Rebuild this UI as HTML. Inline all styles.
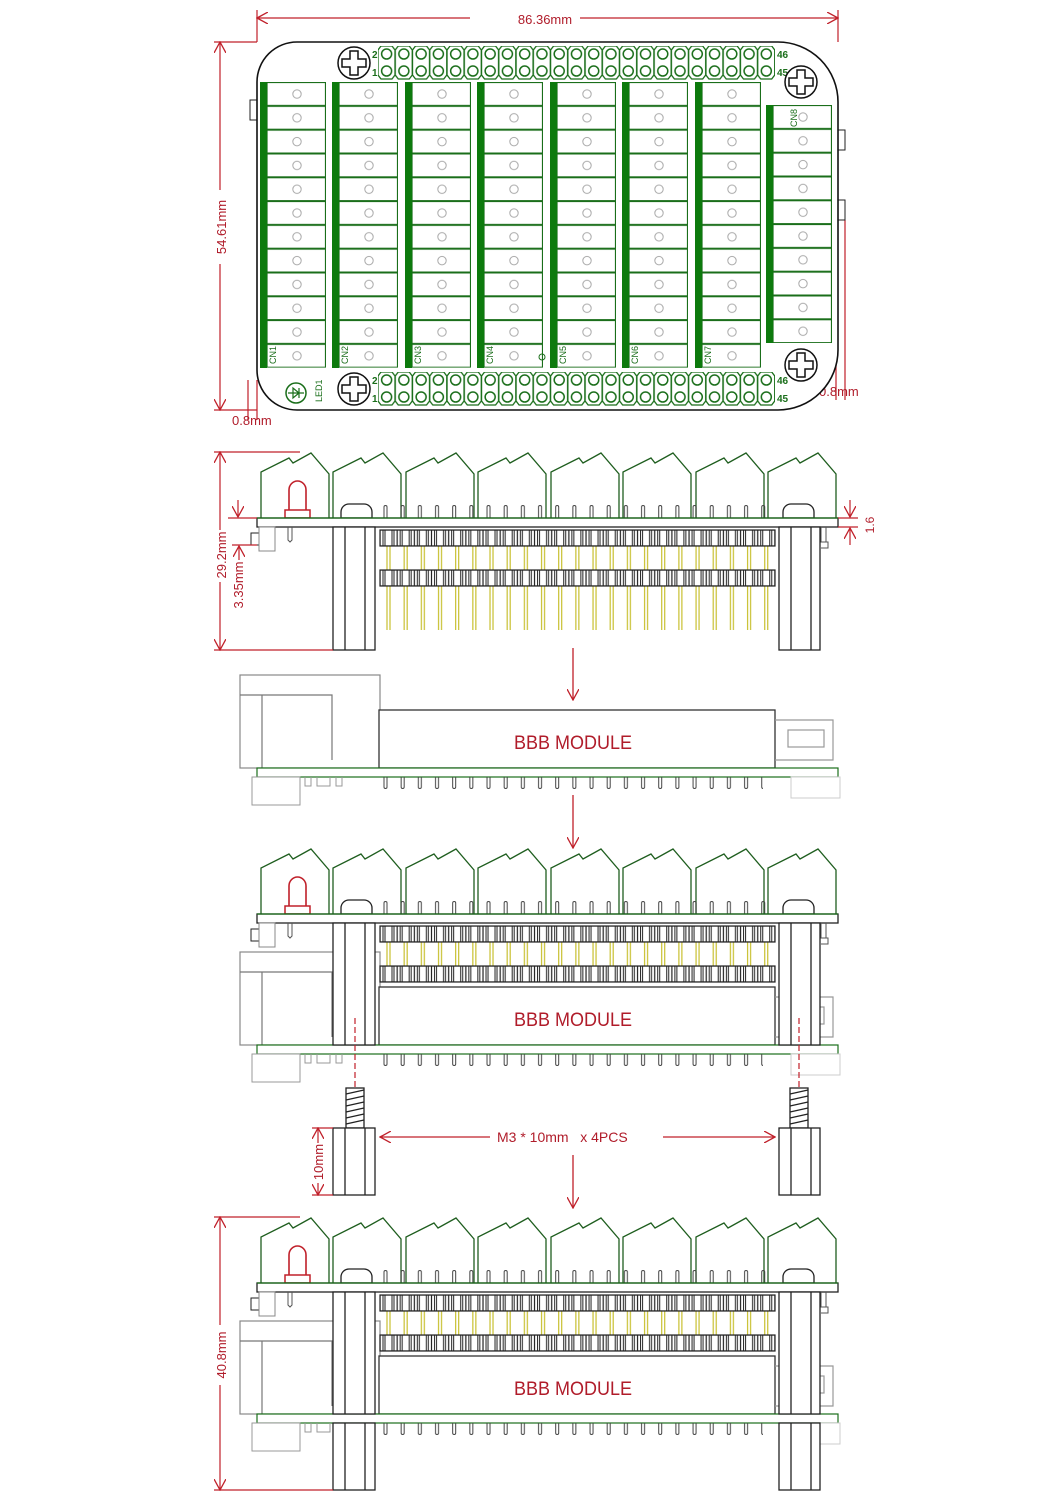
<!DOCTYPE html>
<html><head><meta charset="utf-8"><style>
html,body{margin:0;padding:0;background:#fff;width:1061px;height:1500px;overflow:hidden}
svg{display:block}
text{font-family:"Liberation Sans",sans-serif}
</style></head><body>
<svg width="1061" height="1500" viewBox="0 0 1061 1500" xmlns="http://www.w3.org/2000/svg">
<defs>
<pattern id="hdr" x="380" y="12" width="17.17" height="40" patternUnits="userSpaceOnUse">
<rect x="0" y="0" width="17.17" height="16" fill="#fff" stroke="#222" stroke-width="1.2"/>
<path d="M3 0V16M5 0V16M12 0V16M14 0V16" stroke="#222" stroke-width="1"/>
</pattern>
<pattern id="ypin" x="380" y="0" width="17.17" height="10" patternUnits="userSpaceOnUse">
<path d="M7 0V10M10 0V10" stroke="#c8c030" stroke-width="1.2"/>
</pattern>
<pattern id="upin" x="377" y="-20" width="17.17" height="20" patternUnits="userSpaceOnUse">
<path d="M7 20V9A1.5 1.5 0 0 1 10 9V20" fill="none" stroke="#444" stroke-width="1"/>
</pattern>
<pattern id="dpin" x="377" y="9" width="17.17" height="20" patternUnits="userSpaceOnUse">
<path d="M7 0V10A1.5 1.5 0 0 0 10 10V0" fill="none" stroke="#444" stroke-width="1"/>
</pattern>
<pattern id="hole" x="378" y="0" width="17.26" height="40" patternUnits="userSpaceOnUse">
<path d="M3 0H14L17 4V29L14 33H3L0 29V4Z" fill="#fff" stroke="#1a6e1a" stroke-width="1.3"/>
<circle cx="8.6" cy="8" r="5" fill="none" stroke="#1a6e1a" stroke-width="1.5"/>
<circle cx="8.6" cy="25" r="5" fill="none" stroke="#1a6e1a" stroke-width="1.5"/>
</pattern>
<pattern id="cell" x="0" y="82" width="66" height="23.8" patternUnits="userSpaceOnUse">
<rect x="7" y="0.5" width="58.5" height="23" fill="#fff" stroke="#1a6e1a" stroke-width="1.2"/>
<circle cx="37" cy="12" r="4.2" fill="none" stroke="#aaa" stroke-width="1"/>
</pattern>
<path id="term" d="M0 66V20L28 6L32 11L50 1L68 22V66" fill="#fff" stroke="#1f5e1f" stroke-width="1.3"/>
<g id="screw">
<circle r="16" fill="#fff" stroke="#111" stroke-width="1.5"/>
<path d="M-4 -12H4V-4H12V4H4V12H-4V4H-12V-4H-4Z" fill="#fff" stroke="#111" stroke-width="1.5"/>
</g>
<g id="upper">
<use href="#term" x="261" y="-66"/><use href="#term" x="333" y="-66"/><use href="#term" x="406" y="-66"/><use href="#term" x="478" y="-66"/>
<use href="#term" x="551" y="-66"/><use href="#term" x="623" y="-66"/><use href="#term" x="696" y="-66"/><use href="#term" x="768" y="-66"/>
<path d="M289 -8V-28A8.5 9 0 0 1 306 -28V-8" fill="none" stroke="#c0202a" stroke-width="1.6"/>
<rect x="285" y="-8" width="25" height="8" fill="#fff" stroke="#c0202a" stroke-width="1.5"/>
<path d="M341 0V-6A8 8 0 0 1 349 -14H364A8 8 0 0 1 372 -6V0Z" fill="#fff" stroke="#222" stroke-width="1.3"/>
<path d="M783 0V-6A8 8 0 0 1 791 -14H806A8 8 0 0 1 814 -6V0Z" fill="#fff" stroke="#222" stroke-width="1.3"/>
<rect x="377" y="-20" width="395" height="20" fill="url(#upin)"/>
<rect x="257" y="0" width="581" height="9" fill="#fff" stroke="#222" stroke-width="1.3"/>
<path d="M257 0H838" stroke="#1a6e1a" stroke-width="1.3"/>
<rect x="251" y="15" width="10" height="12" fill="#fff" stroke="#222"/>
<rect x="259" y="9" width="16" height="24" fill="#fff" stroke="#888"/>
<path d="M288 9V22L290 24L292 22V9" fill="none" stroke="#555"/>
<path d="M821 9V24H828V30H821M826 9V24" fill="none" stroke="#555"/>
<rect x="380" y="28" width="395" height="24" fill="url(#ypin)"/>
<rect x="380" y="12" width="395" height="16" fill="url(#hdr)" stroke="#222" stroke-width="1.2"/>
<rect x="380" y="52" width="395" height="16" fill="url(#hdr)" stroke="#222" stroke-width="1.2"/>
</g>
<g id="bbb">
<rect x="240" y="-93" width="140" height="93" fill="#fff" stroke="#888" stroke-width="1.2"/>
<path d="M240 -73H262V0M262 -73H332V-8" fill="none" stroke="#777" stroke-width="1.2"/>
<rect x="379" y="-58" width="396" height="58" fill="#fff" stroke="#333" stroke-width="1.3"/>
<text x="573" y="-19" font-size="19" fill="#b01c2a" text-anchor="middle" textLength="118" lengthAdjust="spacingAndGlyphs">BBB  MODULE</text>
<path d="M775 -48H833V-8H775" fill="none" stroke="#999" stroke-width="1.2"/>
<rect x="788" y="-38" width="36" height="17" fill="none" stroke="#999" stroke-width="1.2"/>
<rect x="257" y="0" width="581" height="9" fill="#fff" stroke="#1a6e1a" stroke-width="1.2"/>
<rect x="383" y="9" width="380" height="14" fill="url(#dpin)"/>
<rect x="252" y="9" width="48" height="28" fill="#fff" stroke="#999"/>
<rect x="791" y="9" width="49" height="21" fill="#fff" stroke="#ccc"/>
<path d="M305 9V18H311V9M317 9V18H330V9M336 9V18H342V9" fill="none" stroke="#999"/>
</g>
<marker id="ar" viewBox="0 0 12 12" refX="11" refY="6" markerWidth="12" markerHeight="12" orient="auto-start-reverse" markerUnits="userSpaceOnUse">
<path d="M0 0L11 6L0 12" fill="none" stroke="#c0202a" stroke-width="1.3"/>
</marker>
</defs>

<!-- ===== TOP VIEW ===== -->
<g stroke="#c0202a" stroke-width="1.2" fill="none">
<path d="M257 10V42M838 10V42M214 42H257M214 410H257"/>
<path d="M257 18H838" marker-start="url(#ar)" marker-end="url(#ar)"/>
<path d="M220 42V410" marker-start="url(#ar)" marker-end="url(#ar)"/>
<path d="M248 380V420M257 380V420"/>
<path d="M836 365V400M845 220V400"/>
</g>
<rect x="470" y="10" width="110" height="16" fill="#fff"/>
<text x="545" y="24" font-size="13" fill="#b01c2a" text-anchor="middle">86.36mm</text>
<rect x="212" y="190" width="16" height="74" fill="#fff"/>
<text transform="translate(226,227) rotate(-90)" font-size="13" fill="#b01c2a" text-anchor="middle">54.61mm</text>
<text x="232" y="425" font-size="13" fill="#b01c2a">0.8mm</text>
<text x="819" y="396" font-size="13" fill="#b01c2a">0.8mm</text>

<rect x="250" y="100" width="8" height="20" fill="#fff" stroke="#222"/>
<rect x="838" y="130" width="7" height="20" fill="#fff" stroke="#222"/>
<rect x="838" y="200" width="7" height="20" fill="#fff" stroke="#222"/>
<path d="M297 42H778A60 60 0 0 1 838 102V350A60 60 0 0 1 778 410H297A40 40 0 0 1 257 370V82A40 40 0 0 1 297 42Z" fill="#fff" stroke="#111" stroke-width="1.6"/>
<g transform="translate(0,46)"><rect x="378" y="0" width="397" height="34" fill="url(#hole)"/></g>
<g transform="translate(0,372)"><rect x="378" y="0" width="397" height="34" fill="url(#hole)"/></g>
<g font-size="10" fill="#1a6e1a" font-weight="bold">
<text x="372" y="58">2</text><text x="372" y="76">1</text>
<text x="777" y="58">46</text><text x="777" y="76">45</text>
<text x="372" y="384">2</text><text x="372" y="402">1</text>
<text x="777" y="384">46</text><text x="777" y="402">45</text>
</g>
<use href="#screw" x="354" y="63"/>
<use href="#screw" x="354" y="389"/>
<use href="#screw" x="801" y="82"/>
<use href="#screw" x="801" y="365"/>

<g>
<g transform="translate(260,0)"><rect x="0" y="82" width="66" height="285.6" fill="url(#cell)"/><rect x="0" y="82" width="7" height="286" fill="#0d7a0d"/></g>
<g transform="translate(332,0)"><rect x="0" y="82" width="66" height="285.6" fill="url(#cell)"/><rect x="0" y="82" width="7" height="286" fill="#0d7a0d"/></g>
<g transform="translate(405,0)"><rect x="0" y="82" width="66" height="285.6" fill="url(#cell)"/><rect x="0" y="82" width="7" height="286" fill="#0d7a0d"/></g>
<g transform="translate(477,0)"><rect x="0" y="82" width="66" height="285.6" fill="url(#cell)"/><rect x="0" y="82" width="7" height="286" fill="#0d7a0d"/></g>
<g transform="translate(550,0)"><rect x="0" y="82" width="66" height="285.6" fill="url(#cell)"/><rect x="0" y="82" width="7" height="286" fill="#0d7a0d"/></g>
<g transform="translate(622,0)"><rect x="0" y="82" width="66" height="285.6" fill="url(#cell)"/><rect x="0" y="82" width="7" height="286" fill="#0d7a0d"/></g>
<g transform="translate(695,0)"><rect x="0" y="82" width="66" height="285.6" fill="url(#cell)"/><rect x="0" y="82" width="7" height="286" fill="#0d7a0d"/></g>
<g transform="translate(766,23)"><rect x="0" y="82" width="66" height="238" fill="url(#cell)"/><rect x="0" y="82" width="7" height="238" fill="#0d7a0d"/></g>
</g>
<g font-size="9" fill="#1a6e1a">
<text transform="translate(276,364) rotate(-90)">CN1</text>
<text transform="translate(348,364) rotate(-90)">CN2</text>
<text transform="translate(421,364) rotate(-90)">CN3</text>
<text transform="translate(493,364) rotate(-90)">CN4</text>
<text transform="translate(566,364) rotate(-90)">CN5</text>
<text transform="translate(638,364) rotate(-90)">CN6</text>
<text transform="translate(711,364) rotate(-90)">CN7</text>
<text transform="translate(797,127) rotate(-90)">CN8</text>
<text transform="translate(322,402) rotate(-90)">LED1</text>
</g>
<circle cx="542" cy="357" r="3" fill="none" stroke="#1a6e1a"/>
<circle cx="296" cy="393" r="10" fill="#fff" stroke="#1a6e1a" stroke-width="1.5"/>
<path d="M288 393H304M293 388V398L299 393Z M299 388V398" fill="none" stroke="#1a6e1a" stroke-width="1.2"/>

<!-- ===== SIDE VIEW 1 ===== -->
<g transform="translate(0,518)">
<rect x="380" y="68" width="395" height="44" fill="url(#ypin)"/>
<use href="#upper"/>
<g fill="#fff" stroke="#222" stroke-width="1.3">
<rect x="333" y="9" width="42" height="123"/><path d="M345 9V132M365 9V132" fill="none"/>
<rect x="779" y="9" width="41" height="123"/><path d="M791 9V132M811 9V132" fill="none"/>
</g>
</g>
<g stroke="#c0202a" stroke-width="1.2" fill="none">
<path d="M214 452H300M214 650H333"/>
<path d="M220 452V650" marker-start="url(#ar)" marker-end="url(#ar)"/>
<path d="M228 518H257M232 545H257"/>
<path d="M238 500V517" marker-end="url(#ar)"/>
<path d="M838 518H858M838 527H858"/>
<path d="M850 500V517" marker-end="url(#ar)"/>
<path d="M850 545V528" marker-end="url(#ar)"/>
</g>
<rect x="213" y="530" width="14" height="52" fill="#fff"/>
<rect x="232" y="560" width="14" height="50" fill="#fff"/>
<text transform="translate(226,555) rotate(-90)" font-size="13" fill="#b01c2a" text-anchor="middle">29.2mm</text>
<text transform="translate(243,585) rotate(-90)" font-size="13" fill="#b01c2a" text-anchor="middle">3.35mm</text>
<path d="M239 560V546" stroke="#c0202a" stroke-width="1.2" fill="none" marker-end="url(#ar)"/>
<text transform="translate(874,525) rotate(-90)" font-size="12" fill="#b01c2a" text-anchor="middle">1.6</text>

<!-- arrows -->
<g stroke="#c0202a" stroke-width="1.3" fill="none">
<path d="M573 648V700" marker-end="url(#ar)"/>
<path d="M573 795V848" marker-end="url(#ar)"/>
<path d="M573 1155V1208" marker-end="url(#ar)"/>
</g>

<!-- ===== BBB MODULE ===== -->
<use href="#bbb" y="768"/>

<!-- ===== ASSEMBLED 2 ===== -->
<g transform="translate(0,1045)"><use href="#bbb"/></g>
<g transform="translate(0,914)">
<use href="#upper"/>
<g fill="#fff" stroke="#222" stroke-width="1.3">
<rect x="333" y="9" width="42" height="122"/><path d="M345 9V131M365 9V131" fill="none"/>
<rect x="779" y="9" width="41" height="122"/><path d="M791 9V131M811 9V131" fill="none"/>
</g>
</g>
<g stroke="#c0202a" stroke-width="1.2" fill="none" stroke-dasharray="6 3">
<path d="M355 1018V1088M799 1018V1088"/>
</g>

<!-- ===== STANDOFFS ===== -->
<g fill="#fff" stroke="#222" stroke-width="1.3">
<rect x="346" y="1088" width="18" height="40"/>
<path d="M346 1094L364 1090M346 1100L364 1096M346 1106L364 1102M346 1112L364 1108M346 1118L364 1114M346 1124L364 1120" fill="none"/>
<rect x="333" y="1128" width="42" height="67"/><path d="M345 1128V1195M365 1128V1195" fill="none"/>
<rect x="790" y="1088" width="18" height="40"/>
<path d="M790 1094L808 1090M790 1100L808 1096M790 1106L808 1102M790 1112L808 1108M790 1118L808 1114M790 1124L808 1120" fill="none"/>
<rect x="779" y="1128" width="41" height="67"/><path d="M791 1128V1195M811 1128V1195" fill="none"/>
</g>
<g stroke="#c0202a" stroke-width="1.2" fill="none">
<path d="M490 1137H380" marker-end="url(#ar)"/>
<path d="M663 1137H775" marker-end="url(#ar)"/>
<path d="M312 1128H333M312 1195H333"/>
<path d="M318 1128V1195" marker-start="url(#ar)" marker-end="url(#ar)"/>
</g>
<text x="497" y="1142" font-size="14" fill="#b01c2a" xml:space="preserve">M3 * 10mm   x 4PCS</text>
<rect x="310" y="1143" width="16" height="40" fill="#fff"/>
<text transform="translate(323,1162) rotate(-90)" font-size="13" fill="#b01c2a" text-anchor="middle">10mm</text>

<!-- ===== FINAL ===== -->
<g transform="translate(0,1414)"><use href="#bbb"/></g>
<g transform="translate(0,1283)">
<use href="#upper"/>
<g fill="#fff" stroke="#222" stroke-width="1.3">
<rect x="333" y="9" width="42" height="122"/><path d="M345 9V131M365 9V131" fill="none"/>
<rect x="779" y="9" width="41" height="122"/><path d="M791 9V131M811 9V131" fill="none"/>
<rect x="333" y="140" width="42" height="67"/><path d="M345 140V207M365 140V207" fill="none"/>
<rect x="779" y="140" width="41" height="67"/><path d="M791 140V207M811 140V207" fill="none"/>
</g>
</g>
<g stroke="#c0202a" stroke-width="1.2" fill="none">
<path d="M214 1217H300M214 1490H333"/>
<path d="M220 1217V1490" marker-start="url(#ar)" marker-end="url(#ar)"/>
</g>
<rect x="212" y="1325" width="16" height="60" fill="#fff"/>
<text transform="translate(226,1355) rotate(-90)" font-size="13" fill="#b01c2a" text-anchor="middle">40.8mm</text>
</svg>
</body></html>
